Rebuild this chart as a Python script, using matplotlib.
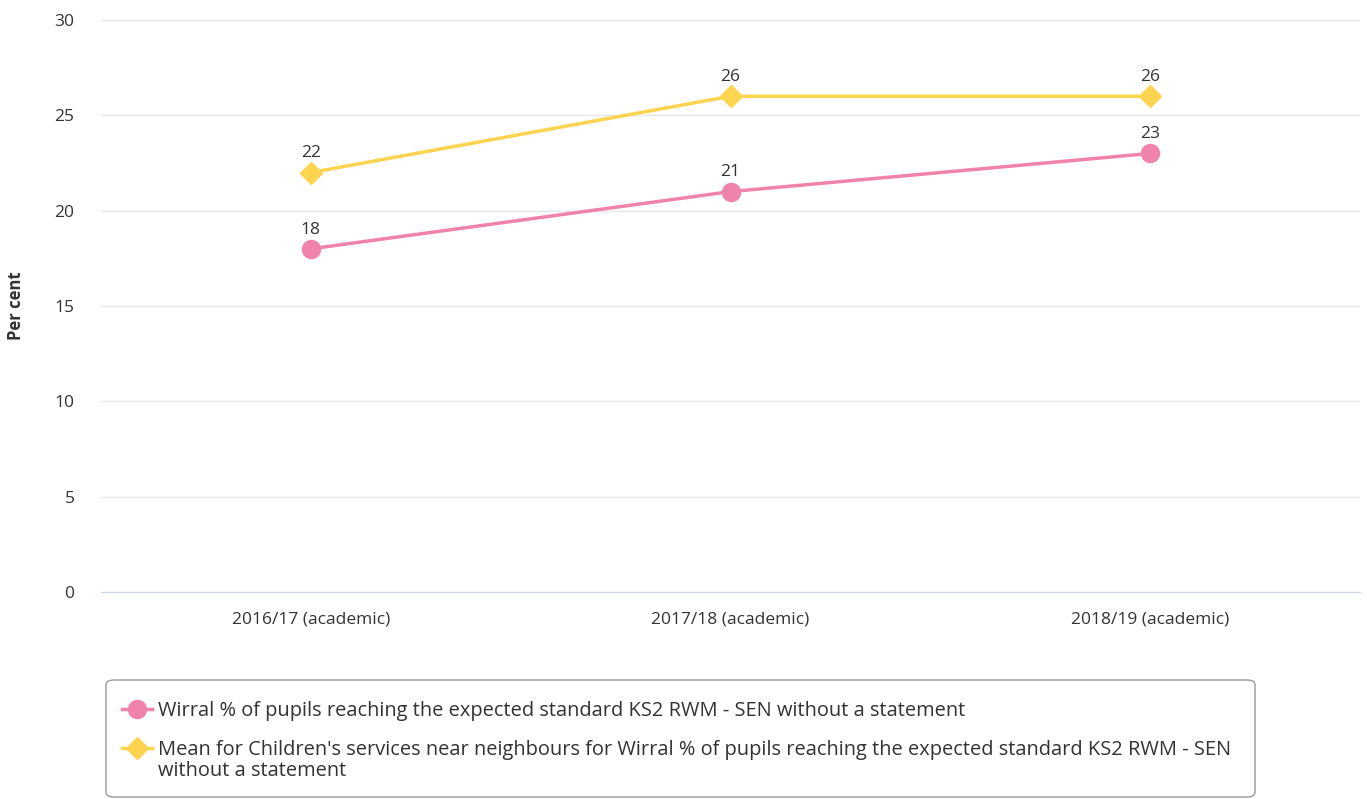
import matplotlib.pyplot as plt
from matplotlib.lines import Line2D
from matplotlib.patches import FancyBboxPatch

plt.rcParams['font.family'] = ['Open Sans', 'DejaVu Sans']

# Data
years = ['2016/17 (academic)', '2017/18 (academic)', '2018/19 (academic)']
wirral = [18, 21, 23]
neighbours = [22, 26, 26]

wirral_label = 'Wirral % of pupils reaching the expected standard KS2 RWM - SEN without a statement'
neighbours_label = ("Mean for Children's services near neighbours for Wirral % of pupils reaching the expected standard KS2 RWM - SEN\n"
                    "without a statement")

pink = '#f083ac'
yellow = '#fdd44f'
text_col = '#333333'

W, H = 1367, 799
fig = plt.figure(figsize=(W / 100, H / 100), dpi=100)
ax = fig.add_axes([101 / W, 1 - 592 / H, 1259 / W, 572 / H])

x = range(len(years))
ax.plot(x, neighbours, color=yellow, lw=2.5, marker='D', ms=11, zorder=3)
ax.plot(x, wirral, color=pink, lw=2.5, marker='o', ms=13, zorder=3)

for xi, v in zip(x, neighbours):
    ax.annotate(str(v), (xi, v), xytext=(0, 8), textcoords='offset points',
                ha='center', va='bottom', fontsize=12.5, color=text_col)
for xi, v in zip(x, wirral):
    ax.annotate(str(v), (xi, v), xytext=(0, 8), textcoords='offset points',
                ha='center', va='bottom', fontsize=12.5, color=text_col)

ax.set_xlim(-0.5, 2.5)
ax.set_ylim(0, 30)
ax.set_yticks([0, 5, 10, 15, 20, 25, 30])
ax.set_xticks(list(x))
ax.set_xticklabels(years)
ax.tick_params(axis='both', length=0, labelsize=12.5, labelcolor=text_col)
ax.tick_params(axis='x', pad=14)
ax.tick_params(axis='y', pad=19)

ax.grid(axis='y', color='#e6e6e6', lw=1)
ax.set_axisbelow(True)
for s in ['top', 'right', 'left']:
    ax.spines[s].set_visible(False)
ax.spines['bottom'].set_color('#ccd6eb')

fig.text(16 / W, 1 - 306 / H, 'Per cent', rotation=90, ha='center', va='center',
         fontsize=12, fontweight='bold', color=text_col)

# Legend drawn by hand so the handle sits on the first line of wrapped text
def fx(px):
    return px / W

def fy(py):
    return 1 - py / H

box = FancyBboxPatch((fx(106), fy(797)), fx(1255) - fx(106), fy(680) - fy(797),
                     boxstyle='round,pad=0,rounding_size=0.006',
                     transform=fig.transFigure, facecolor='white',
                     edgecolor='#999999', lw=1)
fig.patches.append(box)

entries = [(wirral_label, pink, 'o', 13, 709), (neighbours_label, yellow, 'D', 11, 748)]
for label, col, mk, ms, py in entries:
    fig.add_artist(Line2D([fx(122), fx(152)], [fy(py), fy(py)], transform=fig.transFigure,
                          color=col, lw=2.5))
    fig.add_artist(Line2D([fx(137)], [fy(py)], transform=fig.transFigure,
                          color=col, marker=mk, ms=ms))
    fig.text(fx(158), fy(py - 8), label, ha='left', va='top', fontsize=14.4,
             color=text_col, linespacing=1.1)

fig.savefig('out.png', dpi=100)
